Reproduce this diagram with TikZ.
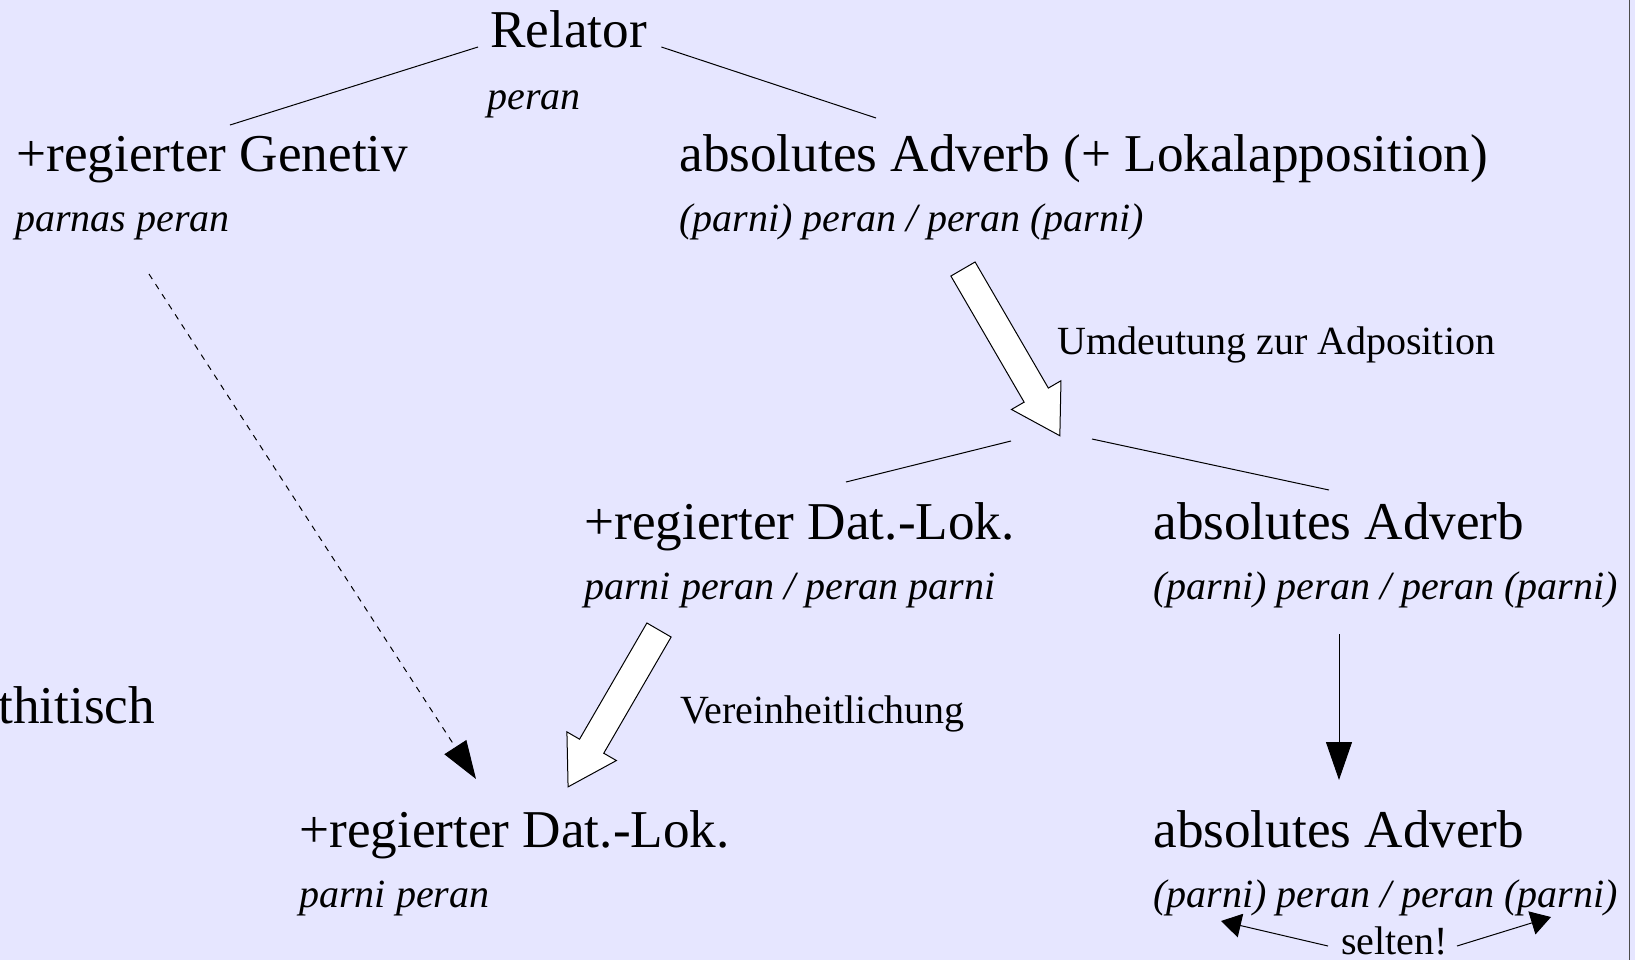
\documentclass[tikz,border=0pt]{standalone}
\usepackage{fontspec}
\setmainfont{Liberation Serif}
\usetikzlibrary{calc,arrows.meta}
\definecolor{bgcol}{RGB}{230,230,255}
\newcommand\hollowarrow[2]{%
  \draw[hollowstyle] let \p1=($(#2)-(#1)$), \n1={atan2(\y1,\x1)}, \n2={veclen(\x1,\y1)} in
    [shift={(#1)}, rotate=\n1]
    (0pt,-7pt) -- (\n2-23.5pt,-7pt) -- (\n2-23.5pt,-14.3pt) -- (\n2+0pt,0pt)
    -- (\n2-23.5pt,14.3pt) -- (\n2-23.5pt,7pt) -- (0pt,7pt) -- cycle;}
\begin{document}
\begin{tikzpicture}[x=0.5pt,y=-0.5pt,
  big/.style={anchor=base west, inner sep=0pt, font=\fontsize{26.6}{30}\selectfont},
  ex/.style={anchor=base west, inner sep=0pt, font=\fontsize{20}{24}\selectfont\itshape},
  lab/.style={anchor=base west, inner sep=0pt, font=\fontsize{20}{24}\selectfont},
  conn/.style={draw=black, line width=0.5pt},
  dashconn/.style={conn, dash pattern=on 3pt off 3pt, -{Triangle[length=19pt,width=13pt]}},
  solidarrow/.style={conn, -{Triangle[length=19pt,width=13pt]}},
  smallarrow/.style={conn, -{Triangle[length=10pt,width=12pt]}},
  hollowstyle/.style={draw=black, fill=white, line width=0.5pt, line join=miter}]
\fill[bgcol] (0,0) rectangle (1635,960);
\useasboundingbox (0,0) rectangle (1635,960);
\draw[gray!60!black, line width=0.5pt] (1629,0) -- (1629,960);

% nodes
\node[big] (relator) at (490,47) {Relator};
\node[ex]  (relatorex) at (487,109) {peran};
\node[big] (gen) at (16,171) {+regierter Genetiv};
\node[ex]  (genex) at (15,231) {parnas peran};
\node[big] (abs1) at (679,171) {absolutes Adverb (+ Lokalapposition)};
\node[ex]  (abs1ex) at (679,231) {(parni) peran / peran (parni)};
\node[lab] (umd) at (1057,354) {Umdeutung zur Adposition};
\node[big] (dat1) at (584,539) {+regierter Dat.-Lok.};
\node[ex]  (dat1ex) at (584,599) {parni peran / peran parni};
\node[big] (abs2) at (1153,539) {absolutes Adverb};
\node[ex]  (abs2ex) at (1153,599) {(parni) peran / peran (parni)};
\node[big] (heth) at (-2,723) {thitisch};
\node[lab] (ver) at (680,723) {Vereinheitlichung};
\node[big] (dat2) at (299,847) {+regierter Dat.-Lok.};
\node[ex]  (dat2ex) at (299,907) {parni peran};
\node[big] (abs3) at (1153,847) {absolutes Adverb};
\node[ex]  (abs3ex) at (1153,907) {(parni) peran / peran (parni)};
\node[lab] (selten) at (1341,954) {selten!};

% junction under the first hollow arrow
\coordinate (junc) at (1060,436);

% tree lines
\draw[conn] ($(relator.base west)+(-12,0)$) -- ($(gen.base west)+(214,-46)$);
\draw[conn] ($(relator.base east)+(14,0)$) -- ($(abs1.base west)+(197,-53)$);
\draw[conn] ($(junc)+(-49,5)$) -- ($(dat1.base west)+(262,-57)$);
\draw[conn] ($(junc)+(32,3)$) -- ($(abs2.base west)+(176,-49)$);

% dashed arrow
\draw[dashconn] ($(genex.base west)+(134,43)$) -- ($(dat2.base west)+(177,-68)$);

% hollow arrows
\coordinate (aonetail) at ($(abs1ex.base west)+(284,38)$);
\hollowarrow{aonetail}{junc}
\coordinate (atwotail) at ($(dat1ex.base west)+(75,31)$);
\coordinate (atwotip) at ($(dat2.base west)+(269,-60)$);
\hollowarrow{atwotail}{atwotip}

% vertical arrow
\draw[solidarrow] ($(abs2ex.base west)+(186,35)$) -- ($(abs3.base west)+(186,-67)$);

% selten arrows
\draw[smallarrow] ($(selten.base west)+(-13,-8)$) -- ($(abs3ex.base west)+(68,14)$);
\draw[smallarrow] ($(selten.base west)+(116,-8)$) -- ($(abs3ex.base west)+(398,10)$);
\end{tikzpicture}
\end{document}
